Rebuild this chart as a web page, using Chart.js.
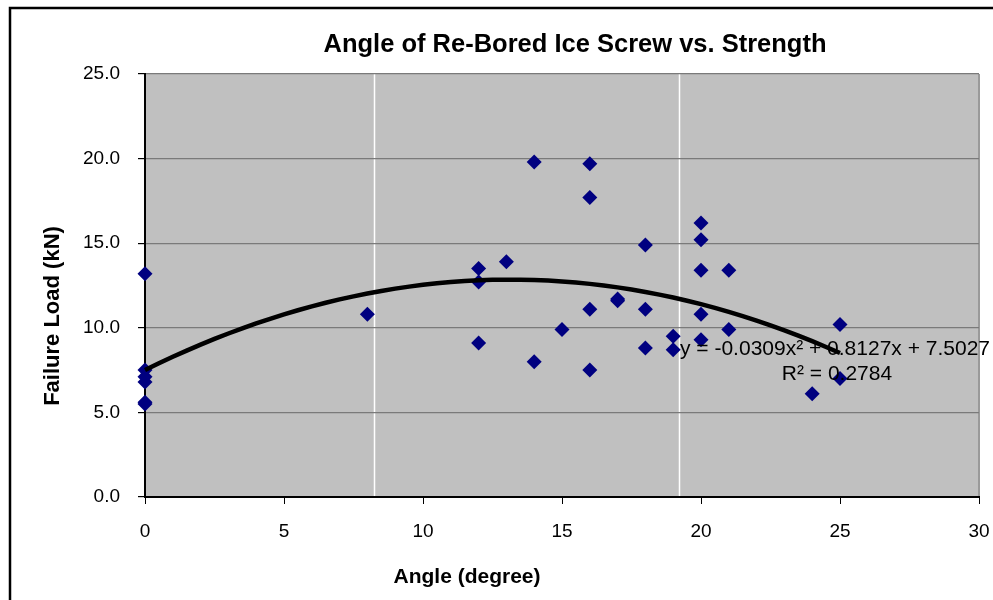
<!DOCTYPE html>
<html><head><meta charset="utf-8">
<script src="https://cdn.jsdelivr.net/npm/chart.js@4.4.0/dist/chart.umd.min.js"></script>
<style>html,body{margin:0;padding:0;background:#fff;} #wrap{width:993px;height:600px;position:relative;}</style>
</head><body><div id="wrap"><canvas id="c" width="993" height="600"></canvas></div>
<script>
const chartTitle = 'Angle of Re-Bored Ice Screw vs. Strength';
const xAxisTitle = 'Angle (degree)';
const yAxisTitle = 'Failure Load (kN)';
const angles = [0,0,0,0,0,0,8,12,12,12,13,14,14,15,16,16,16,16,17,17,18,18,18,19,19,20,20,20,20,20,21,21,24,25,25];
const loads  = [13.2,7.5,7.1,6.8,5.6,5.5,10.8,13.5,12.7,9.1,13.9,19.8,8.0,9.9,19.7,17.7,11.1,7.5,11.7,11.6,14.9,11.1,8.8,9.5,8.7,16.2,15.2,13.4,10.8,9.3,13.4,9.9,6.1,10.2,7.0];
const trendCoefficients = [-0.0309, 0.8127, 7.5027]; // y = a x^2 + b x + c (as printed on the chart)
const trendRange = [0, 25];
const equationLabels = ['y = -0.0309x\u00B2 + 0.8127x + 7.5027', 'R\u00B2 = 0.2784'];
const xTicks = [0,5,10,15,20,25,30];
const yTicks = [0,5,10,15,20,25];
const whiteGuides = [8.25, 19.2];

const FONT = '"Liberation Sans", Arial, sans-serif';
const scatterData = angles.map((a,i)=>({x:a, y:loads[i]}));
const trendData = [];
for (let x = trendRange[0]; x <= trendRange[1] + 1e-9; x += 0.5) {
  const [a,b,c] = trendCoefficients;
  trendData.push({x:x, y:a*x*x + b*x + c});
}

const decor = {
  id: 'decor',
  beforeDraw(chart) {
    const {ctx, chartArea:ca} = chart;
    ctx.save();
    ctx.fillStyle = '#fff';
    ctx.fillRect(0,0,chart.width,chart.height);
    ctx.fillStyle = '#C0C0C0';
    ctx.fillRect(ca.left, ca.top, ca.right-ca.left, ca.bottom-ca.top);
    const xs = chart.scales.x;
    ctx.strokeStyle = '#ffffff';
    ctx.lineWidth = 1.5;
    whiteGuides.forEach(v => {
      const px = Math.round(xs.getPixelForValue(v)) + 0.5;
      ctx.beginPath(); ctx.moveTo(px, ca.top); ctx.lineTo(px, ca.bottom); ctx.stroke();
    });
    ctx.strokeStyle = '#9a9a9a';
    ctx.lineWidth = 2;
    ctx.beginPath(); ctx.moveTo(ca.right, ca.top); ctx.lineTo(ca.right, ca.bottom); ctx.stroke();
    // outer frame
    ctx.strokeStyle = '#000';
    ctx.lineWidth = 2.5;
    ctx.strokeRect(10, 8, chart.width + 20, chart.height + 20);
    ctx.restore();
  },
  afterDraw(chart) {
    const {ctx} = chart;
    ctx.save();
    ctx.fillStyle = '#000';
    ctx.textAlign = 'center';
    ctx.textBaseline = 'middle';
    ctx.font = 'bold 25.5px ' + FONT;
    ctx.fillText(chartTitle, 575, 45);
    ctx.font = 'bold 21px ' + FONT;
    ctx.fillText(xAxisTitle, 467, 577);
    ctx.save();
    ctx.translate(53, 316);
    ctx.rotate(-Math.PI/2);
    ctx.font = 'bold 22px ' + FONT;
    ctx.fillText(yAxisTitle, 0, 0);
    ctx.restore();
    ctx.font = '21px ' + FONT;
    ctx.fillText(equationLabels[0], 835, 349);
    ctx.fillText(equationLabels[1], 837, 374);
    ctx.restore();
  }
};

new Chart(document.getElementById('c'), {
  type: 'scatter',
  data: {
    datasets: [
      { label:'Trend', type:'line', data: trendData, borderColor:'#000', borderWidth:4.5,
        pointRadius:0, tension:0, fill:false, order:0, clip:false },
      { label:'Failure Load', data: scatterData, pointStyle:'rectRot', pointRadius:7.5,
        pointHoverRadius:7.5, backgroundColor:'#000080', borderColor:'#000080', borderWidth:0, order:1, clip:false }
    ]
  },
  options: {
    responsive:false, animation:false, devicePixelRatio:1,
    layout:{ padding:{ top:74, right:14, left:0, bottom:0 } },
    plugins:{ legend:{display:false}, tooltip:{enabled:false}, title:{display:false} },
    scales:{
      x:{ type:'linear', min:0, max:30,
        afterBuildTicks: s => { s.ticks = xTicks.map(v=>({value:v})); },
        afterFit: s => { s.height = 103; s.paddingLeft = 0; s.paddingRight = 0; },
        grid:{ drawOnChartArea:false, tickLength:7, tickColor:'#000', lineWidth:1 },
        border:{ color:'#000', width:2 },
        ticks:{ color:'#000', font:{family:FONT, size:19}, padding:16, maxRotation:0 } },
      y:{ type:'linear', min:0, max:25,
        afterBuildTicks: s => { s.ticks = yTicks.map(v=>({value:v})); },
        afterFit: s => { s.width = 145; s.paddingTop = 0; s.paddingBottom = 0; },
        grid:{ color:'#7a7a7a', lineWidth:1.2, tickLength:7, tickColor:'#000' },
        border:{ color:'#000', width:2 },
        ticks:{ color:'#000', font:{family:FONT, size:19}, padding:18, callback: v => Number(v).toFixed(1) } }
    }
  },
  plugins:[decor]
});
</script></body></html>
